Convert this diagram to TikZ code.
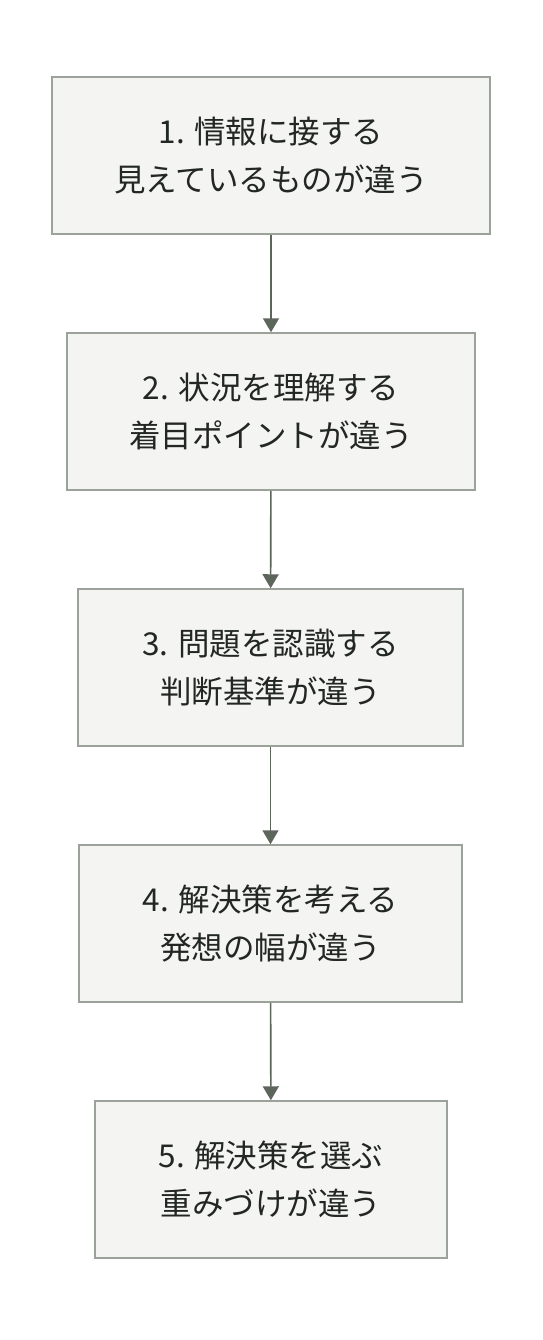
\documentclass[tikz,border=0pt]{standalone}
\usepackage{fontspec}
\setmainfont{Noto Sans CJK JP}
\usetikzlibrary{arrows.meta}
\definecolor{boxfill}{HTML}{F4F4F2}
\definecolor{boxline}{HTML}{9AA29A}
\definecolor{txt}{HTML}{222722}
\definecolor{arr}{HTML}{5C665A}
\tikzset{
  stepbox/.style={draw=boxline, line width=1.5pt, fill=boxfill, text=txt,
    minimum height=157pt, align=center, inner sep=0pt,
    font=\fontsize{31.5pt}{48pt}\selectfont},
  link/.style={draw=arr, line width=1.6pt, -{Triangle[length=14pt,width=16pt]}}
}
\begin{document}
\begin{tikzpicture}[x=1pt,y=-1pt]
\useasboundingbox (0,0) rectangle (542,1340);
\node[stepbox, minimum width=438pt] (b1) at (271,155.5) {1. 情報に接する\\見えているものが違う};
\node[stepbox, minimum width=408pt] (b2) at (271,411.5) {2. 状況を理解する\\着目ポイントが違う};
\node[stepbox, minimum width=385pt] (b3) at (270.5,667.5) {3. 問題を認識する\\判断基準が違う};
\node[stepbox, minimum width=383pt] (b4) at (270.5,923.5) {4. 解決策を考える\\発想の幅が違う};
\node[stepbox, minimum width=352pt] (b5) at (271,1179.5) {5. 解決策を選ぶ\\重みづけが違う};
\draw[link] (b1) -- (b2);
\draw[link] (b2) -- (b3);
\draw[link] (b3) -- (b4);
\draw[link] (b4) -- (b5);
\end{tikzpicture}
\end{document}
